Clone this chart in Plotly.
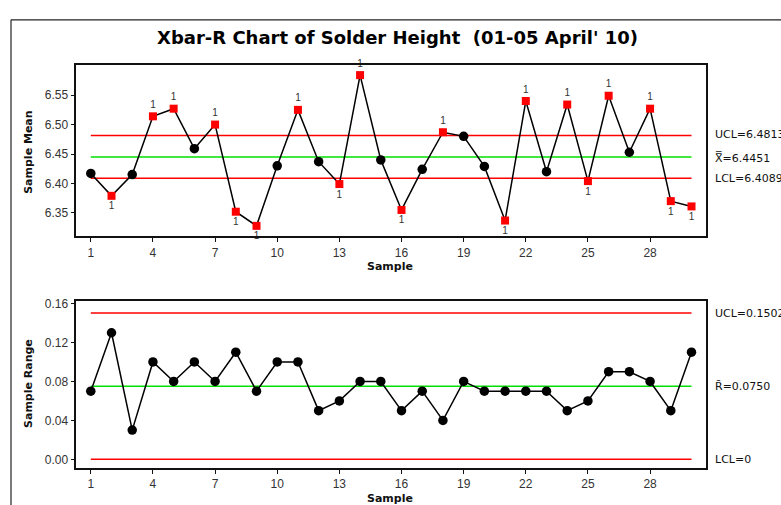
import plotly.graph_objects as go

# Subgroup data (n = 6 per subgroup)
samples = list(range(1, 31))
sample_means = [6.417, 6.379, 6.415, 6.514, 6.527, 6.459, 6.500, 6.352, 6.328, 6.430,
                6.525, 6.437, 6.399, 6.584, 6.440, 6.355, 6.424, 6.487, 6.480, 6.429,
                6.337, 6.540, 6.420, 6.534, 6.404, 6.549, 6.453, 6.527, 6.370, 6.361]
sample_ranges = [0.07, 0.13, 0.03, 0.10, 0.08, 0.10, 0.08, 0.11, 0.07, 0.10,
                 0.10, 0.05, 0.06, 0.08, 0.08, 0.05, 0.07, 0.04, 0.08, 0.07,
                 0.07, 0.07, 0.07, 0.05, 0.06, 0.09, 0.09, 0.08, 0.05, 0.11]

# Control limits
xbar_ucl, xbar_center, xbar_lcl = 6.4813, 6.4451, 6.4089
r_ucl, r_center, r_lcl = 0.1502, 0.0750, 0.0

x_ticks = [1, 4, 7, 10, 13, 16, 19, 22, 25, 28]
mean_ticks = [6.35, 6.40, 6.45, 6.50, 6.55]
range_ticks = [0.00, 0.04, 0.08, 0.12, 0.16]

W, H = 781, 505
RED = "#ff0000"
GREEN = "#00e000"
TICK_FONT = dict(family="Liberation Sans", size=12, color="#333333")
LABEL_FONT = dict(family="DejaVu Sans", size=11, color="#111111")


def px_x(p):
    return p / W


def px_y(p):
    return 1 - p / H


fig = go.Figure()


def add_limit(y, color, xa, ya):
    fig.add_trace(go.Scatter(x=[samples[0], samples[-1]], y=[y, y], mode="lines",
                             line=dict(color=color, width=1.5), xaxis=xa, yaxis=ya,
                             hoverinfo="skip"))


# ---- Xbar chart ----
add_limit(xbar_ucl, RED, "x", "y")
add_limit(xbar_center, GREEN, "x", "y")
add_limit(xbar_lcl, RED, "x", "y")

fig.add_trace(go.Scatter(x=samples, y=sample_means, mode="lines",
                         line=dict(color="black", width=1.5), xaxis="x", yaxis="y"))

ok_x, ok_y, out_x, out_y, out_pos = [], [], [], [], []
for s, m in zip(samples, sample_means):
    if m > xbar_ucl or m < xbar_lcl:
        out_x.append(s)
        out_y.append(m)
        out_pos.append("top center" if m > xbar_ucl else "bottom center")
    else:
        ok_x.append(s)
        ok_y.append(m)

fig.add_trace(go.Scatter(x=ok_x, y=ok_y, mode="markers",
                         marker=dict(color="black", size=9.5, symbol="circle"),
                         xaxis="x", yaxis="y"))
fig.add_trace(go.Scatter(x=out_x, y=out_y, mode="markers+text",
                         marker=dict(color=RED, size=8, symbol="square"),
                         text=["1"] * len(out_x), textposition=out_pos,
                         textfont=dict(family="Liberation Sans", size=10, color="#333333"),
                         cliponaxis=False, xaxis="x", yaxis="y"))

# ---- R chart ----
add_limit(r_ucl, RED, "x2", "y2")
add_limit(r_center, GREEN, "x2", "y2")
add_limit(r_lcl, RED, "x2", "y2")
fig.add_trace(go.Scatter(x=samples, y=sample_ranges, mode="lines+markers",
                         line=dict(color="black", width=1.5),
                         marker=dict(color="black", size=9.5, symbol="circle"),
                         xaxis="x2", yaxis="y2"))

axis_common = dict(showgrid=False, zeroline=False, showline=True, mirror=True,
                   linecolor="#111111", linewidth=1.5, ticks="outside", ticklen=4,
                   tickwidth=1.3, tickcolor="#111111", tickfont=TICK_FONT)

x_dom = [px_x(76.3), px_x(706)]
fig.update_layout(
    width=W, height=H, margin=dict(l=0, r=0, t=0, b=0),
    paper_bgcolor="white", plot_bgcolor="white", showlegend=False,
    xaxis=dict(domain=x_dom, range=[0.3, 30.7], tickvals=x_ticks, anchor="y", **axis_common),
    yaxis=dict(domain=[px_y(234.3), px_y(61)], range=[6.310, 6.602], tickvals=mean_ticks,
               tickformat=".2f", anchor="x", **axis_common),
    xaxis2=dict(domain=x_dom, range=[0.3, 30.7], tickvals=x_ticks, anchor="y2", **axis_common),
    yaxis2=dict(domain=[px_y(467.7), px_y(299)], range=[-0.0089, 0.163], tickvals=range_ticks,
                tickformat=".2f", anchor="x2", **axis_common),
)

ann = []


def text(x, y, s, font, xanchor="left", yanchor="middle", angle=0):
    ann.append(dict(x=px_x(x), y=px_y(y), xref="paper", yref="paper", text=s,
                    showarrow=False, font=font, xanchor=xanchor, yanchor=yanchor,
                    textangle=angle))


BOLD = dict(family="DejaVu Sans", size=11, color="#111111")
text(397, 34, "<b>Xbar-R Chart of Solder Height  (01-05 April' 10)</b>",
     dict(family="DejaVu Sans", size=18, color="black"), xanchor="center")
text(29, 150, "<b>Sample Mean</b>", BOLD, xanchor="center", angle=-90)
text(390, 265, "<b>Sample</b>", BOLD, xanchor="center")
text(29, 383, "<b>Sample Range</b>", BOLD, xanchor="center", angle=-90)
text(390, 498, "<b>Sample</b>", BOLD, xanchor="center")

text(713, 132, f"UCL={xbar_ucl:.4f}", LABEL_FONT)
text(713, 155, f"X\u033f={xbar_center:.4f}", LABEL_FONT)
text(713, 176, f"LCL={xbar_lcl:.4f}", LABEL_FONT)
text(713, 312, f"UCL={r_ucl:.4f}", LABEL_FONT)
text(713, 386, f"R\u0304={r_center:.4f}", LABEL_FONT)
text(713, 459, f"LCL={r_lcl:g}", LABEL_FONT)
fig.update_layout(annotations=ann)

# Outer panel frame
fig.add_shape(type="line", xref="paper", yref="paper", x0=px_x(11), x1=px_x(11),
              y0=px_y(510), y1=px_y(16), line=dict(color="#222222", width=1.2))
fig.add_shape(type="line", xref="paper", yref="paper", x0=px_x(11), x1=px_x(790),
              y0=px_y(16), y1=px_y(16), line=dict(color="#222222", width=1.2))

fig.write_html("out.html")
